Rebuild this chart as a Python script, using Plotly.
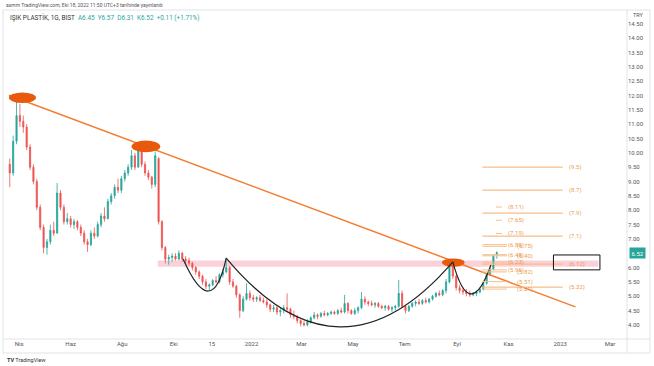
import plotly.graph_objects as go
import pandas as pd

# ---------------- data ----------------
dates = pd.date_range(end="2022-10-18", periods=145, freq="4D")
opens = [9.6, 9.3, 10.4, 11.3, 11.1, 10.9, 10.2, 9.5, 9.0, 8.1,
         7.4, 6.7, 6.9, 7.3, 7.2, 8.6, 8.1, 7.6, 7.7, 7.5,
         7.6, 7.4, 7.2, 6.9, 6.8, 7.2, 7.1, 7.5, 7.8, 7.7,
         8.3, 8.5, 8.8, 8.7, 9.1, 9.3, 9.5, 9.9, 9.5, 10.1,
         9.6, 9.3, 9.15, 8.9, 9.8, 7.6, 6.7, 6.3, 6.35, 6.4,
         6.3, 6.5, 6.3, 6.25, 6.15, 6.0, 5.85, 5.7, 5.5, 5.35,
         5.4, 5.55, 5.5, 5.75, 5.85, 6.0, 5.5, 5.35, 5.05, 4.5,
         4.9, 5.1, 4.95, 4.9, 4.95, 4.85, 4.8, 4.7, 4.55, 4.6,
         4.45, 4.5, 4.6, 4.55, 4.35, 4.3, 4.15, 4.05, 4.0, 4.1,
         4.25, 4.35, 4.3, 4.4, 4.35, 4.4, 4.45, 4.4, 4.5, 4.45,
         4.75, 4.5, 4.4, 4.5, 4.6, 4.9, 4.8, 4.75, 4.7, 4.75,
         4.65, 4.6, 4.65, 4.55, 4.6, 4.65, 5.1, 4.65, 4.5, 4.65,
         4.75, 4.8, 4.75, 4.85, 4.8, 4.9, 5.0, 5.1, 5.05, 5.2,
         5.5, 6.1, 5.7, 5.3, 5.2, 5.15, 5.1, 5.05, 5.1, 5.15,
         5.25, 5.45, 5.75, 5.95, 6.45]
highs = [9.8, 10.6, 11.9, 11.7, 11.3, 11.0, 10.3, 9.6, 9.1, 8.2,
         7.5, 7.0, 7.5, 7.6, 8.95, 8.7, 8.2, 7.9, 7.8, 7.7,
         7.65, 7.5, 7.3, 7.0, 7.3, 7.4, 7.6, 7.9, 8.1, 8.4,
         8.6, 8.9, 9.1, 9.2, 9.4, 9.6, 10.1, 10.0, 10.2, 10.15,
         9.7, 9.4, 9.2, 10.05, 9.85, 7.65, 6.75, 6.45, 6.5, 6.5,
         6.6, 6.55, 6.4, 6.35, 6.2, 6.05, 5.9, 5.75, 5.6, 5.45,
         5.6, 5.7, 5.8, 5.95, 6.35, 6.05, 5.6, 5.4, 5.1, 5.0,
         5.45, 5.2, 5.05, 5.0, 5.05, 4.95, 4.9, 4.75, 4.7, 4.65,
         4.6, 4.7, 5.1, 4.6, 4.5, 4.35, 4.2, 4.15, 4.2, 4.3,
         4.45, 4.4, 4.45, 4.5, 4.45, 4.5, 4.5, 4.55, 4.6, 5.05,
         4.8, 4.55, 4.6, 4.65, 5.15, 5.0, 4.85, 4.85, 4.8, 4.8,
         4.7, 4.7, 4.7, 4.65, 4.7, 5.57, 5.2, 4.7, 4.7, 4.8,
         4.85, 4.9, 4.9, 4.95, 4.95, 5.05, 5.15, 5.2, 5.25, 5.6,
         6.3, 6.25, 5.75, 5.4, 5.3, 5.25, 5.2, 5.15, 5.2, 5.3,
         5.5, 5.8, 6.0, 6.45, 6.57]
lows = [8.8, 9.2, 10.3, 10.9, 10.7, 10.1, 9.4, 8.9, 8.0, 7.3,
        6.5, 6.45, 6.8, 7.1, 7.2, 8.0, 7.5, 7.5, 7.4, 7.35,
        7.3, 7.1, 6.8, 6.55, 6.75, 7.0, 7.05, 7.4, 7.6, 7.7,
        8.2, 8.4, 8.6, 8.6, 9.0, 9.2, 9.4, 9.4, 9.5, 9.5,
        9.2, 9.05, 8.75, 8.8, 7.5, 6.6, 6.15, 6.1, 6.2, 6.25,
        6.25, 6.2, 6.1, 6.05, 5.9, 5.75, 5.6, 5.4, 5.25, 5.2,
        5.35, 5.45, 5.45, 5.65, 5.8, 5.4, 5.3, 4.95, 4.25, 4.45,
        4.85, 4.85, 4.8, 4.8, 4.8, 4.75, 4.6, 4.45, 4.45, 4.35,
        4.3, 4.4, 4.5, 4.25, 4.2, 4.05, 3.95, 3.95, 3.95, 4.05,
        4.2, 4.2, 4.25, 4.3, 4.3, 4.35, 4.35, 4.35, 4.4, 4.4,
        4.4, 4.35, 4.35, 4.4, 4.55, 4.7, 4.65, 4.65, 4.6, 4.6,
        4.55, 4.5, 4.5, 4.45, 4.5, 4.6, 4.6, 4.4, 4.45, 4.6,
        4.65, 4.7, 4.7, 4.75, 4.75, 4.85, 4.95, 5.0, 5.0, 5.1,
        5.45, 5.6, 5.2, 5.1, 5.05, 5.0, 4.98, 5.0, 5.0, 5.1,
        5.2, 5.4, 5.7, 5.9, 6.31]
closes = [9.3, 10.4, 11.3, 11.1, 10.9, 10.2, 9.5, 9.0, 8.1, 7.4,
          6.7, 6.9, 7.3, 7.2, 8.6, 8.1, 7.6, 7.7, 7.5, 7.6,
          7.4, 7.2, 6.9, 6.8, 7.2, 7.1, 7.5, 7.8, 7.7, 8.3,
          8.5, 8.8, 8.7, 9.1, 9.3, 9.5, 9.9, 9.5, 10.1, 9.6,
          9.3, 9.15, 8.9, 9.9, 7.6, 6.7, 6.3, 6.35, 6.4, 6.3,
          6.5, 6.3, 6.25, 6.15, 6.0, 5.85, 5.7, 5.5, 5.35, 5.4,
          5.55, 5.5, 5.75, 5.85, 6.0, 5.5, 5.35, 5.05, 4.5, 4.9,
          5.1, 4.95, 4.9, 4.95, 4.85, 4.8, 4.7, 4.55, 4.6, 4.45,
          4.5, 4.6, 4.55, 4.35, 4.3, 4.15, 4.05, 4.0, 4.1, 4.25,
          4.35, 4.3, 4.4, 4.35, 4.4, 4.45, 4.4, 4.5, 4.45, 4.75,
          4.5, 4.4, 4.5, 4.6, 4.9, 4.8, 4.75, 4.7, 4.75, 4.65,
          4.6, 4.65, 4.55, 4.6, 4.65, 5.1, 4.65, 4.5, 4.65, 4.75,
          4.8, 4.75, 4.85, 4.8, 4.9, 5.0, 5.1, 5.05, 5.2, 5.5,
          6.1, 5.7, 5.3, 5.2, 5.15, 5.1, 5.05, 5.1, 5.15, 5.25,
          5.45, 5.75, 5.95, 6.41, 6.52]

x_tick_dates = ["2021-04-01", "2021-06-01", "2021-08-01", "2021-10-01", "2021-11-15",
                "2022-01-01", "2022-03-01", "2022-05-01", "2022-07-01", "2022-09-01",
                "2022-11-01", "2023-01-01", "2023-03-01"]
x_tick_labels = ["Nis", "Haz", "Ağu", "Eki", "15", "2022", "Mar", "May", "Tem", "Eyl",
                 "Kas", "2023", "Mar"]
y_tick_values = [4.0, 4.5, 5.0, 5.5, 6.0, 7.0, 7.5, 8.0, 8.5, 9.0, 9.5, 10.0,
                 10.5, 11.0, 11.5, 12.0, 12.5, 13.0, 13.5, 14.0, 14.5]

# long target levels (right-hand set)
fib_long_levels = [9.5, 8.7, 7.9, 7.1, 6.12, 5.32]
fib_long_labels = ["(9.5)", "(8.7)", "(7.9)", "(7.1)", "(6.12)", "(5.32)"]
# upper short-dash levels
fib_dash_levels = [8.11, 7.65, 7.19]
fib_dash_labels = ["(8.11)", "(7.65)", "(7.19)"]
# lower levels, first tool
fib_a_levels = [6.80, 6.45, 6.19, 5.92]
fib_a_labels = ["(6.89)", "(6.48)", "(6.23)", "(5.96)"]
# lower levels, second tool
fib_b_levels = [6.74, 6.41, 5.85, 5.51, 5.25]
fib_b_labels = ["(6.75)", "(6.40)", "(5.82)", "(5.51)", "(5.21)"]

last_price = 6.52

# ---------------- figure ----------------
UP = "#26a69a"
DOWN = "#ef5350"
ORANGE = "#F57C30"
FIBLINE = "#F7BE8A"
FIBTEXT = "#EE9A4D"
FRAME = "#E0E3EB"
FONT = "Roboto"

fig = go.Figure()
fig.add_trace(go.Candlestick(
    x=dates, open=opens, high=highs, low=lows, close=closes,
    increasing=dict(line=dict(color=UP, width=0.8), fillcolor=UP),
    decreasing=dict(line=dict(color=DOWN, width=0.8), fillcolor=DOWN),
    whiskerwidth=0, showlegend=False, hoverinfo="skip",
))

shapes = []
# pink resistance band
shapes.append(dict(type="rect", xref="x", yref="y", x0="2021-09-12", x1="2023-02-15",
                   y0=6.03, y1=6.25, fillcolor="rgba(245,150,170,0.45)", line=dict(width=0),
                   layer="below"))
# down trend line
shapes.append(dict(type="line", xref="x", yref="y", x0="2021-03-20", y0=12.01,
                   x1="2023-01-19", y1=4.63, line=dict(color=ORANGE, width=1.5)))
# orange touch ellipses
for (a, b, c, d) in [("2021-03-20", "2021-04-21", 11.74, 12.10),
                     ("2021-08-12", "2021-09-15", 10.02, 10.43),
                     ("2022-08-14", "2022-09-10", 6.03, 6.32)]:
    shapes.append(dict(type="circle", xref="x", yref="y", x0=a, x1=b, y0=c, y1=d,
                       fillcolor="#E8590C", line=dict(width=0)))
# cup & handle curves
cup_paths = [
    "M 2021-10-12,6.30 Q 2021-11-15,4.05 2021-12-02,6.33",
    "M 2021-12-02,6.33 Q 2022-04-15,1.60 2022-08-27,6.20",
    "M 2022-08-27,6.20 Q 2022-09-16,4.02 2022-10-11,6.09",
]
for p in cup_paths:
    shapes.append(dict(type="path", xref="x", yref="y", path=p,
                       line=dict(color="#222222", width=1.2)))
# fib lines
for lv in fib_long_levels:
    shapes.append(dict(type="line", xref="x", yref="y", x0="2022-10-01", x1="2023-01-04",
                       y0=lv, y1=lv, line=dict(color=FIBLINE, width=1.2)))
for lv in fib_dash_levels:
    shapes.append(dict(type="line", xref="x", yref="y", x0="2022-10-17", x1="2022-10-24",
                       y0=lv, y1=lv, line=dict(color=FIBLINE, width=1)))
for lv in fib_a_levels + fib_b_levels:
    shapes.append(dict(type="line", xref="x", yref="y", x0="2022-10-01", x1="2022-10-30",
                       y0=lv, y1=lv, line=dict(color=FIBLINE, width=1)))
# black box
shapes.append(dict(type="rect", xref="x", yref="y", x0="2022-12-24", x1="2023-02-17",
                   y0=5.92, y1=6.44, line=dict(color="#111111", width=1)))
# frame lines (paper coords)
PX = lambda px: (px - 3) / 624.0
PY = lambda py: (339 - py) / 329.0
shapes.append(dict(type="rect", xref="paper", yref="paper", x0=PX(3), x1=PX(650),
                   y0=PY(353), y1=PY(10), line=dict(color=FRAME, width=1)))
shapes.append(dict(type="line", xref="paper", yref="paper", x0=1, x1=1,
                   y0=PY(353), y1=PY(10), line=dict(color=FRAME, width=1)))
shapes.append(dict(type="line", xref="paper", yref="paper", x0=PX(3), x1=PX(650),
                   y0=0, y1=0, line=dict(color=FRAME, width=1)))

annotations = []


def fib_text(xdate, lv, lab):
    return dict(x=xdate, y=lv, xref="x", yref="y", text=lab,
                showarrow=False, xanchor="left", yanchor="middle",
                font=dict(size=6, color=FIBTEXT, family=FONT))


for lv, lab in zip(fib_long_levels, fib_long_labels):
    annotations.append(fib_text("2023-01-09", lv, lab))
for lv, lab in zip(fib_dash_levels + fib_a_levels, fib_dash_labels + fib_a_labels):
    annotations.append(fib_text("2022-10-29", lv, lab))
for lv, lab in zip(fib_b_levels, fib_b_labels):
    annotations.append(fib_text("2022-11-08", lv, lab))
# header
annotations.append(dict(x=PX(4), y=PY(5), xref="paper", yref="paper", showarrow=False,
                        xanchor="left", yanchor="middle",
                        text="asmm TradingView.com, Eki 18, 2022 11:50 UTC+3 tarihinde yayınlandı",
                        font=dict(size=5, color="#555555", family=FONT)))
annotations.append(dict(x=PX(8), y=PY(17), xref="paper", yref="paper", showarrow=False,
                        xanchor="left", yanchor="middle",
                        text="IŞIK PLASTİK, 1G, BIST  <span style='color:#26a69a'>A6.45  Y6.57  D6.31  K6.52  +0.11 (+1.71%)</span>",
                        font=dict(size=6.4, color="#333333", family=FONT)))
annotations.append(dict(x=PX(631), y=PY(15), xref="paper", yref="paper", showarrow=False,
                        xanchor="left", yanchor="middle", text="TRY",
                        font=dict(size=5.5, color="#555555", family=FONT)))
annotations.append(dict(x=PX(629), y=last_price, xref="paper", yref="y", showarrow=False,
                        xanchor="left", yanchor="middle", text="%.2f" % last_price,
                        bgcolor=UP, borderpad=1.5,
                        font=dict(size=6, color="white", family=FONT)))
annotations.append(dict(x=PX(5), y=PY(360), xref="paper", yref="paper", showarrow=False,
                        xanchor="left", yanchor="middle",
                        text="<b>TV</b> TradingView",
                        font=dict(size=5.5, color="#333333", family=FONT)))

fig.update_layout(
    width=654, height=366,
    margin=dict(l=3, r=27, t=10, b=27),
    paper_bgcolor="white", plot_bgcolor="white",
    shapes=shapes, annotations=annotations,
    showlegend=False, boxgap=0.5,
    xaxis=dict(type="date", range=["2021-03-13", "2023-03-21"],
               rangeslider=dict(visible=False), showgrid=False, zeroline=False,
               showline=False, ticks="", tickvals=x_tick_dates, ticktext=x_tick_labels,
               tickfont=dict(size=6, color="#555555", family=FONT)),
    yaxis=dict(side="right", range=[3.51, 14.98], showgrid=False, zeroline=False,
               showline=False, ticks="", tickvals=y_tick_values,
               ticktext=["%.2f" % v for v in y_tick_values],
               tickfont=dict(size=6, color="#555555", family=FONT)),
)

fig.write_html("out.html", config={"displayModeBar": False},
               post_script="document.body.style.margin='0';document.body.style.padding='0';")
